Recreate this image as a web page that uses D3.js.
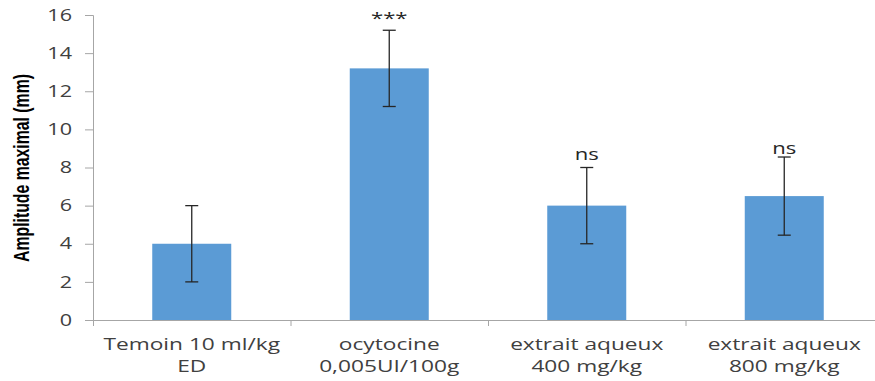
<!DOCTYPE html>
<html>
<head>
<meta charset="utf-8">
<script src="https://cdn.jsdelivr.net/npm/d3@7"></script>
<style>
  body { margin: 0; background: #fff; }
  .axis path, .axis line { stroke: #a6a6a6; }
</style>
</head>
<body>
<div class="chart"></div>
<script>
const groups = [
  ["Temoin 10 ml/kg", "ED"],
  ["ocytocine", "0,005UI/100g"],
  ["extrait aqueux", "400 mg/kg"],
  ["extrait aqueux", "800 mg/kg"]
];
const means = [4, 13.2, 6, 6.5];
const errors = [2, 2, 2, 2.05];
const marks = ["", "***", "ns", "ns"];
const markLevels = [0, 15.55, 8.4, 8.72];
const yTicks = [0, 2, 4, 6, 8, 10, 12, 14, 16];

var margin = { top: 15, right: -8, bottom: 61, left: 93 },
    width = 875 - margin.left - margin.right,
    height = 381 - margin.top - margin.bottom,
    stretch = 1.3;

var svg = d3.select('div.chart').append('svg')
    .attr('width', 875)
    .attr('height', 381)
  .append('g')
    .attr('transform', `translate(${margin.left},${margin.top})`);

var x = d3.scaleBand()
    .domain(d3.range(groups.length))
    .range([0, width])
    .paddingInner(0.6)
    .paddingOuter(0.3);

var y = d3.scaleLinear()
    .domain([0, 16])
    .range([height, 0]);

// y axis
var yAxis = svg.append('g')
    .attr('class', 'axis')
    .call(d3.axisLeft(y).tickValues(yTicks).tickSizeOuter(0).tickSize(8));
yAxis.selectAll('.tick text')
    .attr('x', 0)
    .attr('transform', `translate(-21,0) scale(${stretch + 0.05},1)`)
    .style('font-family', '"Open Sans", sans-serif')
    .style('font-size', '16px')
    .attr('fill', '#404040');

// x axis: ticks at group boundaries
var xb = d3.scaleLinear().domain([0, groups.length]).range([0, width]);
svg.append('g')
    .attr('class', 'axis')
    .attr('transform', `translate(0,${height})`)
    .call(d3.axisBottom(xb).tickValues(d3.range(groups.length + 1)).tickSize(6).tickSizeOuter(0).tickFormat(''));

// bars
svg.selectAll('rect.bar')
    .data(means)
    .enter()
    .append('rect')
      .attr('class', 'bar')
      .attr('x', (d, i) => x(i))
      .attr('y', d => y(d))
      .attr('width', x.bandwidth())
      .attr('height', d => y(0) - y(d))
      .attr('fill', '#5b9bd5');

// error bars
var cx = i => x(i) + x.bandwidth() / 2;
var eb = svg.selectAll('g.err')
    .data(means)
    .enter()
    .append('g')
      .attr('class', 'err')
      .attr('stroke', '#262626')
      .attr('stroke-width', 1.3);
eb.append('line')
    .attr('x1', (d, i) => cx(i))
    .attr('x2', (d, i) => cx(i))
    .attr('y1', (d, i) => y(d + errors[i]))
    .attr('y2', (d, i) => y(d - errors[i]));
eb.append('line')
    .attr('x1', (d, i) => cx(i) - 6.5)
    .attr('x2', (d, i) => cx(i) + 6.5)
    .attr('y1', (d, i) => y(d + errors[i]))
    .attr('y2', (d, i) => y(d + errors[i]));
eb.append('line')
    .attr('x1', (d, i) => cx(i) - 6.5)
    .attr('x2', (d, i) => cx(i) + 6.5)
    .attr('y1', (d, i) => y(d - errors[i]))
    .attr('y2', (d, i) => y(d - errors[i]));

// significance marks
svg.selectAll('text.mark')
    .data(marks)
    .enter()
    .append('text')
      .attr('class', 'mark')
      .attr('transform', (d, i) => `translate(${cx(i)},${y(markLevels[i])}) scale(${stretch},1)`)
      .attr('text-anchor', 'middle')
      .style('font-family', '"Open Sans", sans-serif')
      .style('font-size', '17px')
      .attr('fill', '#262626')
      .text(d => d);

// category labels, one text per line
[0, 1].forEach(function(j) {
    svg.selectAll(`text.cat${j}`)
        .data(groups)
        .enter()
        .append('text')
          .attr('class', `cat${j}`)
          .attr('transform', (d, i) => `translate(${cx(i)},${height + 30 + j * 22}) scale(1.42,1)`)
          .attr('text-anchor', 'middle')
          .style('font-family', '"Open Sans", sans-serif')
          .style('font-size', '16px')
          .attr('fill', '#404040')
          .text(d => d[j]);
});

// y title
svg.append('text')
    .attr('transform', `translate(${-64},${153}) rotate(-90)`)
    .attr('text-anchor', 'middle')
    .attr('textLength', 188)
    .attr('lengthAdjust', 'spacingAndGlyphs')
    .style('font-family', '"Liberation Sans Narrow", "Arial Narrow", sans-serif')
    .style('font-weight', 'bold')
    .style('font-size', '22px')
    .attr('fill', '#000')
    .text('Amplitude maximal (mm)');
</script>
</body>
</html>
